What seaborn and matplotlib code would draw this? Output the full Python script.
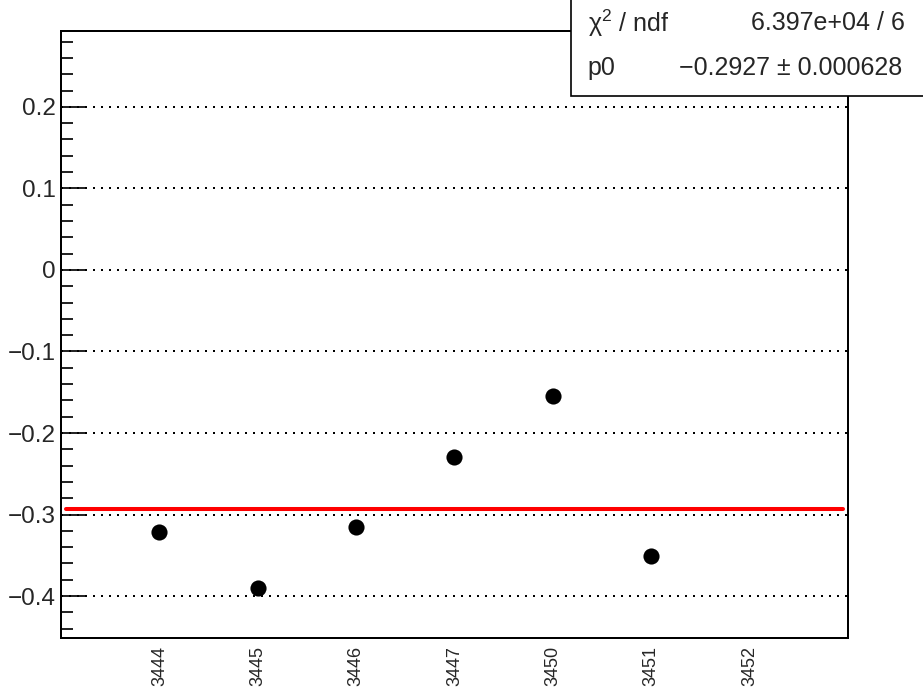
import numpy as np
import pandas as pd
import matplotlib
matplotlib.use("Agg")
import matplotlib.pyplot as plt
from matplotlib.patches import Rectangle
from matplotlib.ticker import MultipleLocator, FuncFormatter
import seaborn as sns

# Data
run_labels = ["3444", "3445", "3446", "3447", "3450", "3451", "3452"]
point_runs = ["3444", "3445", "3446", "3447", "3450", "3451"]
point_values = [-0.322, -0.390, -0.315, -0.230, -0.155, -0.351]
fit_p0 = -0.2927
fit_p0_err = 0.000628
fit_chi2 = "6.397e+04"
fit_ndf = 6
fit_range = [0.05, 7.95]

sns.set_theme(style="white")
plt.rcParams["font.family"] = ["Liberation Sans", "DejaVu Sans"]
plt.rcParams["mathtext.fontset"] = "custom"
plt.rcParams["mathtext.rm"] = "Liberation Sans"
plt.rcParams["mathtext.it"] = "Liberation Sans"

df = pd.DataFrame({
    "pos": [run_labels.index(r) + 1 for r in point_runs],
    "value": point_values,
})
fit_df = pd.DataFrame({"x": fit_range, "y": [fit_p0, fit_p0]})

fig = plt.figure(figsize=(9.23, 6.89), dpi=100)
ax = fig.add_axes([0.0661, 0.0740, 0.8526, 0.8810])

# horizontal dotted grid at major y ticks
for yv in [-0.4, -0.3, -0.2, -0.1, 0.0, 0.1, 0.2]:
    ax.axhline(yv, color="black", lw=1.44, ls=(0, (1, 3)), zorder=1)

sns.lineplot(data=fit_df, x="x", y="y", color="#ff0000", lw=2.9, ax=ax, zorder=2)
sns.scatterplot(data=df, x="pos", y="value", color="black", s=135,
                edgecolor="black", linewidth=0, ax=ax, zorder=3)

ax.set_xlim(0, 8)
ax.set_ylim(-0.4514, 0.293)
ax.set_xlabel("")
ax.set_ylabel("")

ax.set_xticks(range(1, len(run_labels) + 1))
ax.set_xticklabels(run_labels, rotation=90, fontsize=13)
ax.tick_params(axis="x", length=0, pad=6)

ax.yaxis.set_major_locator(MultipleLocator(0.1))
ax.yaxis.set_minor_locator(MultipleLocator(0.02))
ax.yaxis.set_major_formatter(FuncFormatter(
    lambda v, p: f"{round(v, 3) + 0:g}".replace("-", "\u2212")))
ax.tick_params(axis="y", which="major", direction="in", length=17, width=1.44,
               labelsize=17.5, pad=4, left=True, right=False)
ax.tick_params(axis="y", which="minor", direction="in", length=8.6, width=1.44,
               left=True, right=False)

for sp in ax.spines.values():
    sp.set_visible(True)
    sp.set_color("black")
    sp.set_linewidth(1.44)

# fit statistics box
box = Rectangle((0.6186, 0.8607), 0.40, 0.16, transform=fig.transFigure,
                facecolor="white", edgecolor="black", lw=1.2, zorder=10)
fig.patches.append(box)
fig.text(0.637, 0.966, "\u03c7$^{2}$ / ndf", fontsize=18, ha="left", va="center", zorder=11)
fig.text(0.980, 0.966, f"{fit_chi2} / {fit_ndf}", fontsize=18, ha="right",
         va="center", zorder=11)
fig.text(0.637, 0.901, "p0", fontsize=18, ha="left", va="center", zorder=11)
fig.text(0.977, 0.901, f"\u2212{abs(fit_p0):.4f} \u00b1 {fit_p0_err:g}", fontsize=18,
         ha="right", va="center", zorder=11)

fig.savefig("out.png", dpi=100)
